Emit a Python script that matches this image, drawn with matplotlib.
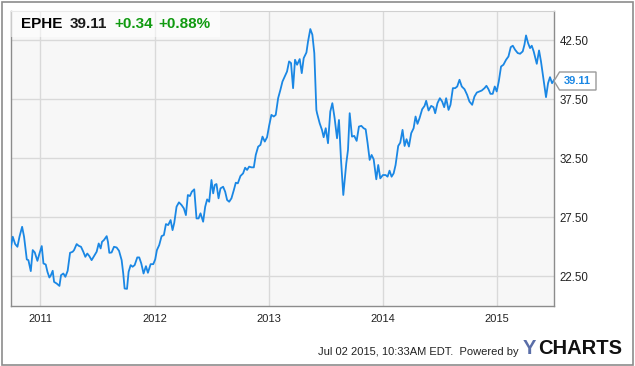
import numpy as np
import matplotlib
matplotlib.use('Agg')
import matplotlib.pyplot as plt
from matplotlib.patches import Rectangle, Polygon

plt.rcParams['font.family'] = ['Liberation Sans', 'DejaVu Sans']

# EPHE weekly closes (x = decimal year)
years = [
    2010.741, 2010.758, 2010.779, 2010.799, 2010.817, 2010.840, 2010.857, 2010.881, 2010.895, 2010.916,
    2010.933, 2010.951, 2010.974, 2010.992, 2011.012, 2011.027, 2011.047, 2011.062, 2011.079, 2011.091,
    2011.108, 2011.120, 2011.143, 2011.167, 2011.181, 2011.201, 2011.219, 2011.239, 2011.260, 2011.283,
    2011.295, 2011.318, 2011.336, 2011.356, 2011.376, 2011.394, 2011.411, 2011.429, 2011.449, 2011.470,
    2011.493, 2011.511, 2011.528, 2011.540, 2011.557, 2011.581, 2011.592, 2011.604, 2011.624, 2011.645,
    2011.668, 2011.689, 2011.712, 2011.726, 2011.738, 2011.759, 2011.773, 2011.791, 2011.808, 2011.826,
    2011.849, 2011.866, 2011.884, 2011.904, 2011.925, 2011.942, 2011.966, 2011.989, 2012.006, 2012.021,
    2012.041, 2012.062, 2012.082, 2012.100, 2012.120, 2012.141, 2012.158, 2012.173, 2012.193, 2012.214,
    2012.237, 2012.257, 2012.275, 2012.292, 2012.310, 2012.327, 2012.348, 2012.368, 2012.386, 2012.403,
    2012.426, 2012.444, 2012.461, 2012.479, 2012.499, 2012.514, 2012.528, 2012.543, 2012.561, 2012.578,
    2012.601, 2012.619, 2012.636, 2012.654, 2012.674, 2012.695, 2012.712, 2012.730, 2012.753, 2012.776,
    2012.794, 2012.811, 2012.829, 2012.849, 2012.870, 2012.887, 2012.908, 2012.928, 2012.946, 2012.966,
    2012.986, 2013.004, 2013.024, 2013.045, 2013.062, 2013.083, 2013.103, 2013.121, 2013.141, 2013.161,
    2013.179, 2013.196, 2013.214, 2013.231, 2013.249, 2013.272, 2013.290, 2013.307, 2013.331, 2013.345,
    2013.365, 2013.383, 2013.400, 2013.418, 2013.424, 2013.447, 2013.467, 2013.482, 2013.500, 2013.520,
    2013.540, 2013.558, 2013.578, 2013.599, 2013.616, 2013.634, 2013.654, 2013.680, 2013.695, 2013.710,
    2013.730, 2013.750, 2013.771, 2013.791, 2013.812, 2013.832, 2013.850, 2013.867, 2013.885, 2013.902,
    2013.920, 2013.943, 2013.960, 2013.978, 2014.001, 2014.025, 2014.042, 2014.059, 2014.077, 2014.095,
    2014.112, 2014.135, 2014.153, 2014.173, 2014.191, 2014.208, 2014.229, 2014.249, 2014.270, 2014.287,
    2014.304, 2014.322, 2014.345, 2014.366, 2014.380, 2014.401, 2014.424, 2014.444, 2014.459, 2014.479,
    2014.500, 2014.520, 2014.538, 2014.555, 2014.576, 2014.593, 2014.614, 2014.634, 2014.652, 2014.672,
    2014.692, 2014.716, 2014.739, 2014.759, 2014.783, 2014.803, 2014.824, 2014.847, 2014.867, 2014.891,
    2014.908, 2014.926, 2014.943, 2014.963, 2014.981, 2014.998, 2015.016, 2015.036, 2015.057, 2015.080,
    2015.101, 2015.121, 2015.139, 2015.159, 2015.182, 2015.203, 2015.226, 2015.241, 2015.255, 2015.273,
    2015.290, 2015.305, 2015.322, 2015.349, 2015.369, 2015.386, 2015.407, 2015.430, 2015.448, 2015.465,
    2015.483, 2015.500,
]
price = [
    24.93, 25.86, 25.24, 25.01, 25.86, 26.70, 25.86, 23.94, 23.88, 22.95,
    24.73, 24.53, 23.82, 24.44, 25.07, 23.60, 23.51, 22.89, 22.41, 22.58,
    22.98, 22.04, 21.90, 21.70, 22.61, 22.75, 22.47, 22.98, 24.50, 24.59,
    24.73, 25.24, 25.09, 25.01, 24.59, 24.16, 24.44, 24.22, 23.88, 24.22,
    24.59, 25.29, 24.87, 25.43, 25.58, 25.91, 25.43, 24.50, 24.53, 25.01,
    24.95, 24.67, 23.88, 22.75, 21.48, 21.45, 22.89, 23.46, 23.32, 23.46,
    24.11, 24.11, 23.60, 22.75, 23.37, 22.81, 23.54, 23.54, 23.94, 24.73,
    25.15, 25.91, 26.00, 26.93, 26.85, 27.27, 26.42, 27.04, 28.40, 28.77,
    28.54, 28.26, 27.69, 29.39, 29.30, 29.67, 29.87, 27.41, 27.41, 27.84,
    27.13, 28.40, 29.02, 28.82, 30.66, 29.53, 30.24, 30.32, 29.11, 29.95,
    30.09, 29.67, 28.97, 28.82, 29.11, 29.81, 30.43, 30.38, 31.00, 31.22,
    31.70, 31.51, 31.79, 31.73, 31.73, 32.78, 33.48, 33.63, 34.33, 33.91,
    34.28, 35.24, 36.17, 36.03, 36.17, 37.58, 38.29, 38.99, 39.42, 39.84,
    40.69, 40.55, 38.43, 40.83, 40.41, 40.89, 39.70, 40.97, 41.45, 42.38,
    43.43, 42.95, 41.39, 36.59, 36.31, 35.46, 34.90, 34.28, 35.04, 33.77,
    36.45, 37.16, 35.89, 34.19, 35.74, 32.36, 29.39, 32.07, 33.20, 36.31,
    34.33, 34.39, 33.97, 35.18, 35.24, 35.04, 34.95, 33.77, 32.36, 32.78,
    32.41, 30.72, 31.93, 30.80, 31.08, 31.08, 30.94, 31.45, 30.94, 31.22,
    31.93, 33.54, 33.82, 34.90, 33.54, 34.11, 33.49, 34.62, 35.04, 36.03,
    35.41, 35.89, 36.65, 36.93, 37.36, 36.54, 36.93, 36.82, 36.31, 37.16,
    37.58, 37.30, 36.82, 37.58, 36.59, 37.02, 38.43, 38.43, 38.57, 39.14,
    38.57, 38.34, 37.86, 37.30, 37.02, 37.72, 38.06, 38.15, 38.23, 38.43,
    38.63, 38.34, 37.95, 37.95, 38.57, 38.15, 38.99, 40.26, 40.41, 40.83,
    41.11, 41.90, 42.02, 41.68, 41.40, 41.34, 41.54, 42.10, 42.89, 42.24,
    41.82, 42.02, 41.54, 40.49, 41.62, 40.69, 39.28, 37.67, 38.85, 39.36,
    38.85, 39.11,
]

ticker = 'EPHE'
last = '39.11'
change = '+0.34'
change_pct = '+0.88%'
year_ticks = [2011, 2012, 2013, 2014, 2015]
price_ticks = [22.5, 27.5, 32.5, 37.5, 42.5]

W, H = 635, 366
fig = plt.figure(figsize=(W / 100, H / 100), dpi=100)
fig.patch.set_facecolor('white')

# plot panel
ax = fig.add_axes([10.7 / W, 1 - 306 / H, (554 - 10.7) / W, (306 - 10.5) / H])
ax.set_facecolor('#f7f7f7')
ax.set_xlim(2010.74, 2015.50)
ax.set_ylim(20, 45)
ax.set_xticks(year_ticks)
ax.set_yticks(price_ticks)
ax.grid(True, color='#d9d9d9', lw=1.0)
ax.set_axisbelow(True)
ax.plot(years, price, color='#1a87e4', lw=1.3, solid_joinstyle='round', zorder=3)

ax.tick_params(length=0)
ax.set_xticklabels([str(y) for y in year_ticks], fontsize=8, color='#222222')
ax.set_yticklabels(['%.2f' % v for v in price_ticks], fontsize=8.3, color='#222222')
ax.yaxis.tick_right()
ax.tick_params(axis='y', pad=4)
ax.tick_params(axis='x', pad=6)
for side in ['left', 'bottom', 'right']:
    ax.spines[side].set_color('#8c8c8c')
    ax.spines[side].set_linewidth(1.0)
ax.spines['top'].set_color('#d0d0d0')

# header box with ticker and change
ax.add_patch(Rectangle((0, 1), 0.385, -0.088, transform=ax.transAxes,
                       facecolor='white', alpha=0.55, edgecolor='none', zorder=4))
hy = 1 - 23.8 / H
fig.text(21 / W, hy, ticker, fontsize=11, fontweight='bold', color='black', va='center')
fig.text(70 / W, hy, last, fontsize=11, fontweight='bold', color='#1a1a1a', va='center')
fig.text(114 / W, hy, change, fontsize=11, fontweight='bold', color='#109a10', va='center')
fig.text(158.7 / W, hy, change_pct, fontsize=11, fontweight='bold', color='#109a10', va='center')

# last price tag on the right axis
tag = Polygon([[554 / W, 1 - 81 / H], [559.5 / W, 1 - 72 / H], [596 / W, 1 - 72 / H],
               [596 / W, 1 - 90 / H], [559.5 / W, 1 - 90 / H]], closed=True,
              transform=fig.transFigure, facecolor='white', edgecolor='#9a9a9a', lw=1.0)
fig.patches.append(tag)
fig.text(577.5 / W, 1 - 81 / H, last, fontsize=8, fontweight='bold', color='#1a87e4',
         ha='center', va='center')

# footer
fig.text(519 / W, 1 - 352 / H, 'Jul 02 2015, 10:33AM EDT.  Powered by', fontsize=8,
         color='#222222', ha='right', va='center')
fig.text(523 / W, 1 - 349 / H, 'Y', fontsize=14.5, fontweight='bold', color='#5a6ea8',
         va='center')
fig.text(538 / W, 1 - 349 / H, 'CHARTS', fontsize=14.5, fontweight='bold', color='#111111',
         va='center')

# outer frame
fig.patches.append(Rectangle((1.5 / W, 1.5 / H), 631 / W, 363 / H, transform=fig.transFigure,
                             facecolor='none', edgecolor='#8c8c8c', lw=1.2))

fig.savefig('out.png', dpi=100)
